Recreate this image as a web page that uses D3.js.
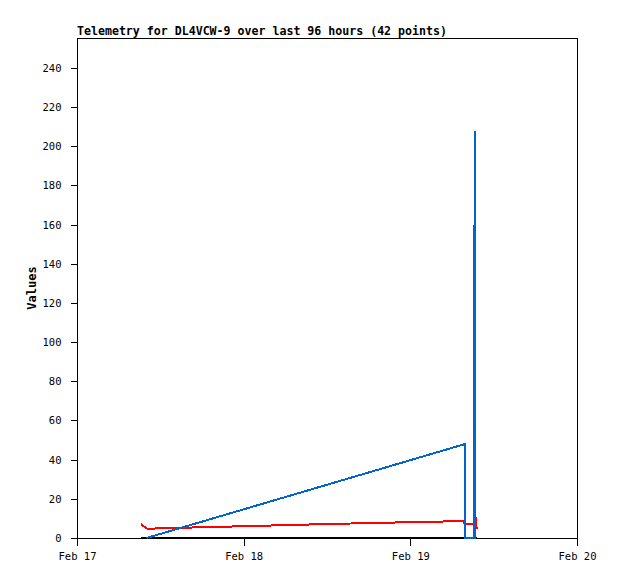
<!DOCTYPE html>
<html><head><meta charset="utf-8">
<script src="https://cdn.jsdelivr.net/npm/d3@7"></script>
<style>body{margin:0;background:#fff}svg{display:block}</style>
</head><body>
<script>
// Hours after Feb 17 00:00 (UTC)
const blueHours = [10.0, 55.9, 55.9, 57.1, 57.1, 57.1, 57.3, 57.3];
const blueValues = [0, 48, 0, 0, 160, 0, 0, 208];
const redHours = [9.2, 10.1, 12.5, 16.0, 21.5, 27.0, 32.5, 38.0, 43.5, 49.0, 55.6, 55.9, 57.2, 57.45, 57.55];
const redValues = [7.0, 4.8, 4.9, 5.3, 5.8, 6.3, 6.8, 7.3, 7.7, 8.2, 8.6, 7.0, 7.0, 8.8, 4.6];
const blackHours = [9.2, 57.6];
const blackValues = [0, 0];
const yTicks = [0, 20, 40, 60, 80, 100, 120, 140, 160, 180, 200, 220, 240];
const xTickLabels = ["Feb 17", "Feb 18", "Feb 19", "Feb 20"];
const titleText = "Telemetry for DL4VCW-9 over last 96 hours (42 points)";

const W = 618, H = 579;
const m = {left: 77, top: 38, right: 577, bottom: 538};
const t0 = Date.UTC(2024, 1, 17);
const hr = h => new Date(t0 + h * 3600e3);

const svg = d3.select("body").append("svg").attr("width", W).attr("height", H);
const x = d3.scaleUtc().domain([hr(0), hr(72)]).range([m.left, m.right]);
const y = d3.scaleLinear().domain([0, 255.3]).range([m.bottom, m.top]);

const font = "'DejaVu Sans Mono', 'Liberation Mono', monospace";

// frame
svg.append("rect").attr("x", m.left + 0.5).attr("y", m.top + 0.5)
  .attr("width", m.right - m.left).attr("height", m.bottom - m.top)
  .attr("fill", "none").attr("stroke", "#000").attr("shape-rendering", "crispEdges");

// y axis
const yAxis = d3.axisLeft(y).tickValues(yTicks).tickSize(7).tickPadding(9);
const gy = svg.append("g").attr("transform", `translate(${m.left + 0.5},0)`).call(yAxis);
gy.select(".domain").remove();
gy.selectAll("line").attr("shape-rendering", "crispEdges");
gy.selectAll("text").attr("font-family", font).attr("font-size", 10.5).attr("fill", "#000");

// x axis
const xTicks = [0, 24, 48, 72].map(hr);
const xAxis = d3.axisBottom(x).tickValues(xTicks).tickSize(7).tickPadding(7)
  .tickFormat((d, i) => xTickLabels[i]);
const gx = svg.append("g").attr("transform", `translate(0,${m.bottom + 0.5})`).call(xAxis);
gx.select(".domain").remove();
gx.selectAll("line").attr("shape-rendering", "crispEdges");
gx.selectAll("text").attr("font-family", font).attr("font-size", 10.5).attr("fill", "#000");

const line = d3.line().x(d => x(hr(d[0]))).y(d => y(d[1]));
function draw(hours, vals, color, w) {
  svg.append("path").datum(hours.map((h, i) => [h, vals[i]]))
    .attr("d", line).attr("fill", "none").attr("stroke", color)
    .attr("stroke-width", w).attr("shape-rendering", "crispEdges");
}
draw(blackHours, blackValues, "#000", 2);
draw(redHours, redValues, "#ff0000", 2);
draw(blueHours, blueValues, "#0066cc", 2);

// title
svg.append("text").attr("x", m.left).attr("y", 35)
  .attr("font-family", font).attr("font-size", 11.6).attr("font-weight", "bold")
  .text(titleText);

// y label
svg.append("text").attr("transform", `translate(36,${(m.top + m.bottom) / 2}) rotate(-90)`)
  .attr("text-anchor", "middle").attr("font-family", font).attr("font-size", 12)
  .attr("font-weight", "bold").text("Values");
</script>
</body></html>
